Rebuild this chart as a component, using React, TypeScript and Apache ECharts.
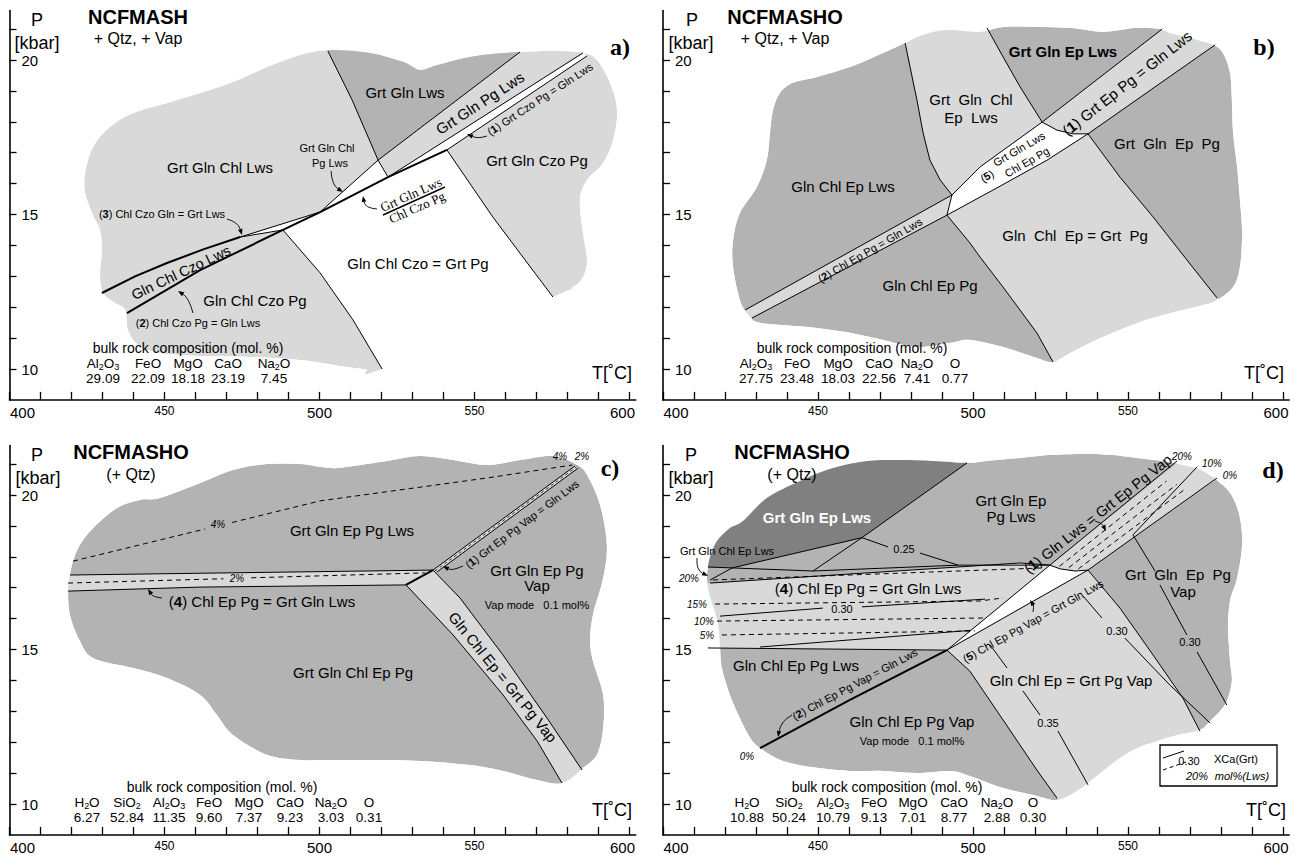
import React, { useEffect, useRef } from "react";
import * as echarts from "echarts";

type Pt = [number, number];

// ---------------- axes ----------------
const T_MIN = 400, T_MAX = 602, P_MIN = 9, P_MAX = 21.6;
const X_TICKS = [400, 410, 420, 430, 440, 450, 460, 470, 480, 490, 500, 510, 520, 530, 540, 550, 560, 570, 580, 590, 600];
const X_LABELS = [400, 450, 500, 550, 600];
const Y_TICKS = [10, 11, 12, 13, 14, 15, 16, 17, 18, 19, 20, 21];
const Y_LABELS = [10, 15, 20];

// ---------------- panel a (NCFMASH) ----------------
const A_BLOB: Pt[] = [
  [503.4, 20.32], [516.3, 20.23], [527.0, 19.94], [532.4, 19.68], [537.9, 19.84], [548.5, 20.10], [559.2, 20.23],
  [575.3, 20.29], [585.0, 20.23], [589.5, 20.0], [593.7, 19.26], [596.0, 18.38], [594.7, 17.41], [591.5, 16.67],
  [586.3, 16.12], [584.0, 15.47], [585.0, 14.40], [586.3, 13.53], [585.0, 12.98], [581.8, 12.65], [575.3, 12.33],
  [520.2, 10.0], [514.7, 10.0], [506.6, 10.10], [493.7, 10.29], [477.6, 10.39], [461.5, 10.42], [448.5, 10.52],
  [441.5, 10.78], [438.2, 11.26], [437.3, 11.91], [434.0, 12.14], [430.2, 12.46], [429.2, 13.04], [429.8, 13.85],
  [429.2, 14.50], [426.6, 15.05], [424.4, 15.70], [424.4, 16.34], [426.9, 17.18], [432.4, 17.83], [439.8, 18.28],
  [450.8, 18.61], [461.5, 18.93], [472.1, 19.29], [483.1, 19.77], [493.7, 20.16],
];
const A_DARK: Pt[] = [[502.7, 20.29], [510.5, 18.71], [518.9, 16.76], [564.7, 20.26], [565, 21.4], [502, 21.4]];
const A_WHITE_SLIVER: Pt[] = [[500.2, 15.08], [518.9, 16.76], [522.1, 16.21]];
const A_WHITE_STRIP: Pt[] = [[522.1, 16.21], [585.0, 20.23], [586.3, 20.13], [541.1, 17.09]];
const A_WHITE_WEDGE: Pt[] = [[474.4, 14.27], [500.2, 15.08], [488.2, 14.50]];
const A_WHITE_FIELD: Pt[] = [
  [488.2, 14.50], [500.2, 15.08], [522.1, 16.21], [541.1, 17.09], [555.9, 14.92], [575.3, 12.33],
  [580, 11.0], [525, 9.3], [520.2, 10.0], [510.8, 11.59], [500.2, 13.11],
];
const A_L_UPPER_THICK: Pt[] = [[429.8, 12.46], [440.5, 13.0], [450.8, 13.43], [462.5, 13.87], [474.4, 14.27]];
const A_L_UPPER_THIN: Pt[] = [[474.4, 14.27], [488.2, 14.50]];
const A_L_WEDGE_TOP: Pt[] = [[474.4, 14.27], [500.2, 15.08]];
const A_L_REACTION2: Pt[] = [[437.9, 11.81], [461.5, 13.2], [488.2, 14.50], [500.2, 15.08], [522.1, 16.21], [541.1, 17.09]];
const A_L_STRIP_LOW: Pt[] = [[541.1, 17.09], [586.3, 20.13]];
const A_L_STRIP_UP: Pt[] = [[522.1, 16.21], [585.0, 20.23]];
const A_L_DARK_RIGHT: Pt[] = [[564.7, 20.26], [518.9, 16.76], [500.2, 15.08]];
const A_L_DARK_LEFT: Pt[] = [[502.7, 20.29], [510.5, 18.71], [518.9, 16.76], [522.1, 16.21]];
const A_L_FIELD_LEFT: Pt[] = [[488.2, 14.50], [500.2, 13.11], [510.8, 11.59], [520.2, 10.0]];
const A_L_FIELD_RIGHT: Pt[] = [[541.1, 17.09], [555.9, 14.92], [575.3, 12.33]];
const A_OXIDES = ["Al{s|2}O{s|3}", "FeO", "MgO", "CaO", "Na{s|2}O"];
const A_VALUES = ["29.09", "22.09", "18.18", "23.19", "7.45"];

// ---------------- panel b (NCFMASHO, + Vap) ----------------
const B_BLOB: Pt[] = [
  [478.1, 20.55], [481.9, 20.74], [487.1, 20.91], [492.6, 20.97], [502.3, 20.91], [509.7, 21.07], [520.6, 21.07],
  [531.3, 21.04], [541.9, 20.91], [552.9, 21.04], [560.3, 21.0], [563.5, 20.87], [572.3, 20.65], [577.4, 20.49],
  [580.6, 20.23], [582.9, 19.58], [583.5, 18.71], [583.9, 17.64], [585.2, 16.54], [586.1, 15.47], [586.8, 14.40],
  [586.1, 13.30], [583.9, 12.65], [578.7, 12.23], [574.2, 12.07], [563.5, 11.81], [552.9, 11.49], [541.9, 11.04],
  [531.3, 10.52], [525.8, 10.23], [520.6, 10.36], [509.7, 10.71], [499.0, 10.94], [492.6, 10.84], [481.9, 10.71],
  [471.0, 10.94], [460.3, 11.17], [449.7, 11.33], [438.7, 11.42], [430.3, 11.52], [427.1, 11.81], [424.8, 12.23],
  [422.6, 13.30], [422.6, 14.17], [424.8, 15.05], [430.3, 15.89], [433.5, 16.76], [434.5, 17.64], [435.5, 18.38],
  [437.7, 18.93], [441.9, 19.26], [449.7, 19.45], [460.3, 19.77], [471.0, 20.23],
];
const B_LIGHT_TOP: Pt[] = [
  [478.1, 20.55], [479.7, 19.77], [481.9, 18.71], [483.9, 17.64], [486.1, 16.76], [489.4, 16.12], [493.2, 15.63],
  [502.3, 16.54], [512.9, 17.31], [522.3, 17.99], [515.2, 19.13], [509.7, 20.10], [504.5, 21.04], [504.5, 21.5], [478, 21.5],
];
const B_BAND2: Pt[] = [[423, 11.71], [493.2, 15.63], [491.6, 14.98], [425, 11.45]];
const B_BAND1: Pt[] = [[522.3, 17.99], [566, 21.38], [584, 20.9], [537.1, 17.61], [532.3, 17.61], [527.1, 17.73]];
const B_WHITE5: Pt[] = [
  [493.2, 15.63], [502.3, 16.54], [512.9, 17.31], [522.3, 17.99], [527.1, 17.73], [532.3, 17.61], [537.1, 17.61],
  [523.9, 16.76], [507.7, 15.86], [491.6, 14.98],
];
const B_LIGHT_BOTTOM: Pt[] = [
  [491.6, 14.98], [507.7, 15.86], [523.9, 16.76], [537.1, 17.61], [547.4, 16.21], [558.1, 14.92], [569.0, 13.53],
  [578.7, 12.30], [584, 11.6], [528, 9.6], [525.8, 10.23], [520.6, 11.17], [509.7, 12.65], [502.3, 13.62], [499.0, 14.08],
];
const B_L_B1: Pt[] = [[478.1, 20.55], [479.7, 19.77], [481.9, 18.71], [483.9, 17.64], [486.1, 16.76], [489.4, 16.12], [493.2, 15.63]];
const B_L_B2: Pt[] = [[504.5, 21.04], [509.7, 20.10], [515.2, 19.13], [522.3, 17.99]];
const B_L_B3: Pt[] = [[537.1, 17.61], [547.4, 16.21], [558.1, 14.92], [569.0, 13.53], [578.7, 12.30]];
const B_L_B4: Pt[] = [[491.6, 14.98], [499.0, 14.08], [502.3, 13.62], [509.7, 12.65], [520.6, 11.17], [525.8, 10.23]];
const B_L_5UP: Pt[] = [[493.2, 15.63], [502.3, 16.54], [512.9, 17.31], [522.3, 17.99]];
const B_L_5TOP: Pt[] = [[522.3, 17.99], [527.1, 17.73], [532.3, 17.61], [537.1, 17.61]];
const B_L_5LOW: Pt[] = [[491.6, 14.98], [507.7, 15.86], [523.9, 16.76], [537.1, 17.61]];
const B_L_JOIN: Pt[] = [[493.2, 15.63], [491.6, 14.98]];
const B_L_2UP: Pt[] = [[426.5, 11.91], [493.2, 15.63]];
const B_L_2LOW: Pt[] = [[428.7, 11.65], [491.6, 14.98]];
const B_L_1UP: Pt[] = [[522.3, 17.99], [561.0, 21.0]];
const B_L_1LOW: Pt[] = [[537.1, 17.61], [578.1, 20.49]];
const B_OXIDES = ["Al{s|2}O{s|3}", "FeO", "MgO", "CaO", "Na{s|2}O", "O"];
const B_VALUES = ["27.75", "23.48", "18.03", "22.56", "7.41", "0.77"];

// ---------------- panel c (NCFMASHO, + Qtz) ----------------
const C_BLOB: Pt[] = [
  [427.0, 18.93], [434.7, 19.58], [442.1, 19.84], [448.5, 19.90], [461.5, 20.39], [472.1, 20.81], [483.1, 21.0],
  [493.7, 21.0], [503.4, 20.87], [510.8, 20.94], [521.8, 21.10], [532.4, 21.26], [543.1, 21.13], [554.0, 20.97],
  [564.7, 21.13], [575.3, 21.26], [583.1, 20.97], [586.3, 20.65], [590.5, 19.68], [592.7, 18.38], [591.5, 17.31],
  [588.2, 16.12], [587.3, 15.28], [588.2, 14.63], [591.5, 13.53], [591.5, 12.46], [589.5, 11.59], [585.0, 11.17],
  [578.5, 10.68], [570.2, 10.78], [559.2, 11.07], [548.5, 11.26], [532.4, 11.39], [516.3, 11.42], [503.4, 11.42],
  [493.7, 11.42], [483.1, 11.59], [472.1, 12.23], [466.9, 12.88], [461.5, 13.53], [450.8, 14.08], [439.9, 14.40],
  [427.0, 14.72], [422.7, 15.28], [419.5, 16.12], [418.9, 16.89], [419.5, 17.41], [420.5, 17.86], [422.7, 18.38],
];
const C_BAND4: Pt[] = [[415, 17.40], [536.6, 17.57], [527.9, 17.09], [461.5, 17.02], [415, 16.88]];
const C_DIAG: Pt[] = [
  [527.9, 17.09], [536.6, 17.57], [545.3, 16.67], [559.2, 14.82], [573.4, 12.78], [584.7, 11.10], [588, 10.4],
  [578, 10.2], [578.2, 10.68], [570.2, 12.04], [559.2, 13.53], [543.1, 15.47],
];
const C_STRIP1: Pt[] = [[536.6, 17.57], [582.4, 20.94], [583.4, 20.87], [537.9, 17.51]];
const C_L_BAND_UP: Pt[] = [[419.5, 17.41], [536.6, 17.57]];
const C_L_BAND_LOW: Pt[] = [[418.9, 16.89], [461.5, 17.02], [527.9, 17.09]];
const C_L_CLOSE: Pt[] = [[527.9, 17.09], [536.6, 17.57]];
const C_L_DIAG_L: Pt[] = [[527.9, 17.09], [543.1, 15.47], [559.2, 13.53], [570.2, 12.04], [578.2, 10.68]];
const C_L_DIAG_R: Pt[] = [[536.6, 17.57], [545.3, 16.67], [559.2, 14.82], [573.4, 12.78], [584.7, 11.10]];
const C_L_1A: Pt[] = [[536.6, 17.57], [582.4, 20.94]];
const C_L_1B: Pt[] = [[537.9, 17.51], [583.4, 20.87]];
const C_D_1MID: Pt[] = [[537.2, 17.54], [582.9, 20.91]];
const C_D_2PCT_A: Pt[] = [[418.9, 17.15], [469, 17.29]];
const C_D_2PCT_B: Pt[] = [[478, 17.32], [534.0, 17.48]];
const C_D_4PCT_A: Pt[] = [[420.5, 17.86], [463.1, 18.90]];
const C_D_4PCT_B: Pt[] = [[471.8, 19.11], [500.2, 19.81], [554.0, 20.55], [581.5, 20.97]];
const C_OXIDES = ["H{s|2}O", "SiO{s|2}", "Al{s|2}O{s|3}", "FeO", "MgO", "CaO", "Na{s|2}O", "O"];
const C_VALUES = ["6.27", "52.84", "11.35", "9.60", "7.37", "9.23", "3.03", "0.31"];

// ---------------- panel d (NCFMASHO, + Qtz, isopleths) ----------------
const D_BLOB: Pt[] = [
  [415.2, 18.0], [417.4, 18.51], [421.6, 18.93], [425.8, 19.16], [433.5, 19.90], [444.2, 20.45], [454.8, 20.87],
  [465.8, 21.10], [476.5, 21.13], [487.1, 21.10], [498.1, 21.04], [504.5, 21.10], [515.2, 21.20], [525.8, 21.30],
  [536.8, 21.33], [544.2, 21.30], [552.9, 21.20], [561.3, 21.10], [569.0, 20.94], [574.2, 20.78], [580.6, 20.32],
  [583.9, 19.90], [586.1, 19.26], [586.8, 18.38], [585.2, 17.31], [582.9, 16.57], [582.3, 15.70], [582.9, 14.63],
  [583.5, 13.98], [581.9, 13.33], [579.7, 13.01], [576.5, 12.69], [573.2, 12.40], [565.8, 12.23], [559.4, 12.04],
  [552.9, 11.81], [547.4, 11.49], [541.9, 11.07], [533.5, 10.42], [527.1, 10.13], [520.6, 10.26], [509.7, 10.52],
  [499.0, 10.91], [492.6, 11.07], [481.9, 11.0], [471.0, 11.07], [460.3, 11.07], [449.7, 11.17], [438.7, 11.39],
  [431.3, 11.81], [428.1, 12.14], [424.8, 12.78], [421.6, 13.53], [419.0, 14.40], [418.4, 15.05], [417.7, 15.86],
  [415.2, 16.70], [414.2, 17.25], [414.5, 17.67],
];
const D_DARK: Pt[] = [[412, 17.67], [422.3, 17.64], [464.2, 18.62], [498.1, 21.04], [500, 21.55], [412, 21.55]];
const D_BAND4: Pt[] = [[412, 17.13], [515.2, 17.80], [524.8, 17.73], [491.6, 14.98], [414.5, 15.05], [412, 15.05]];
const D_WEDGE5: Pt[] = [[491.6, 14.98], [524.8, 17.73], [528.1, 17.61], [532.9, 17.54], [537.1, 17.57]];
const D_BAND1: Pt[] = [[524.8, 17.73], [568.9, 21.29], [582.3, 20.78], [537.1, 17.57], [532.9, 17.54], [528.1, 17.61]];
const D_LIGHT_FIELD: Pt[] = [
  [491.6, 14.98], [537.1, 17.57], [547.4, 16.34], [558.1, 14.82], [567.7, 13.43], [573.2, 12.36], [578, 11.2],
  [530, 9.6], [527.1, 10.19], [520.6, 11.10], [509.7, 12.72], [499.0, 14.30],
];
const D_L_D1: Pt[] = [[498.1, 21.04], [464.2, 18.62], [448.4, 17.54]];
const D_L_D3: Pt[] = [[415.2, 17.25], [422.3, 17.64], [464.2, 18.62]];
const D_L_D2: Pt[] = [[414.5, 17.67], [422.3, 17.64], [448.4, 17.54], [495.2, 17.73], [524.8, 17.73]];
const D_L_025A: Pt[] = [[464.2, 18.62], [472.6, 18.32]];
const D_L_025B: Pt[] = [[482.9, 18.12], [495.2, 17.73]];
const D_L_T4: Pt[] = [[415.2, 17.15], [515.2, 17.80], [524.8, 17.73]];
const D_L_B4: Pt[] = [[414.5, 15.05], [491.6, 14.98]];
const D_L_R: Pt[] = [[431.3, 15.08], [499.3, 15.62]];
const D_D_20: Pt[] = [[416.1, 17.25], [522.6, 17.64]];
const D_D_15: Pt[] = [[416.8, 16.47], [502.3, 16.57], [509.7, 16.67]];
const D_D_10: Pt[] = [[417.4, 15.92], [503.9, 16.02]];
const D_D_5: Pt[] = [[419.0, 15.47], [500.6, 15.60]];
const D_L_030A: Pt[] = [[418.4, 16.08], [451.6, 16.34]];
const D_L_030B: Pt[] = [[464.2, 16.38], [503.9, 16.63]];
const D_L_5UP: Pt[] = [[491.6, 14.98], [524.8, 17.73]];
const D_L_5LOW: Pt[] = [[491.6, 14.98], [537.1, 17.57]];
const D_L_5TOP: Pt[] = [[524.8, 17.73], [528.1, 17.61], [532.9, 17.54], [537.1, 17.57]];
const D_L_1UP: Pt[] = [[524.8, 17.73], [565.8, 21.10]];
const D_L_1LOW: Pt[] = [[537.1, 17.57], [578.7, 20.55]];
const D_L_10PCT: Pt[] = [[572.3, 20.91], [551.6, 18.71]];
const D_D_B1A: Pt[] = [[527.9, 17.69], [562.4, 20.45]];
const D_D_B1B: Pt[] = [[530.9, 17.65], [565.7, 20.34]];
const D_D_B1C: Pt[] = [[534.0, 17.61], [568.8, 20.22]];
const D_L_FIELD_R: Pt[] = [[537.1, 17.57], [547.4, 16.34], [558.1, 14.82], [567.7, 13.43], [573.2, 12.36]];
const D_L_FIELD_L: Pt[] = [[491.6, 14.98], [499.0, 14.30], [509.7, 12.72], [520.6, 11.10], [527.1, 10.19]];
const D_L_REACTION2: Pt[] = [[431.3, 11.81], [460.3, 13.37], [491.6, 14.98]];
const D_L_030R1: Pt[] = [[551.6, 18.71], [558.7, 17.54]];
const D_L_030R2: Pt[] = [[560.3, 17.09], [569.0, 15.47]];
const D_L_030R3: Pt[] = [[572.3, 14.92], [581.9, 13.20]];
const D_L_030M1: Pt[] = [[535.5, 16.73], [541.6, 16.02]];
const D_L_030M2: Pt[] = [[549.0, 15.37], [563.5, 13.85], [576.5, 12.62]];
const D_L_035A: Pt[] = [[505.5, 15.15], [511.0, 14.40]];
const D_L_035B: Pt[] = [[516.1, 13.66], [521.6, 12.88]];
const D_L_035C: Pt[] = [[527.4, 12.36], [537.1, 10.62]];
const D_OXIDES = ["H{s|2}O", "SiO{s|2}", "Al{s|2}O{s|3}", "FeO", "MgO", "CaO", "Na{s|2}O", "O"];
const D_VALUES = ["10.88", "50.24", "10.79", "9.13", "7.01", "8.77", "2.88", "0.30"];

// ---------------- styles ----------------
const LIGHT = "#d9d9d9";
const MID = "#b3b3b3";
const DARK = "#808080";
const WHITE = "#ffffff";
const SANS = "'Liberation Sans', Arial, Helvetica, sans-serif";
const SERIF = "'Liberation Serif', 'Times New Roman', serif";
const DASH = [5, 4];

interface Fill { pts: Pt[]; color: string }
interface Stroke { pts: Pt[]; w?: number; dash?: number[] }
interface Spec { blob: Pt[]; base: string; fills: Fill[]; lines: Stroke[] }

const PANELS: Spec[] = [
  {
    blob: A_BLOB, base: LIGHT,
    fills: [
      { pts: A_DARK, color: MID }, { pts: A_WHITE_SLIVER, color: WHITE }, { pts: A_WHITE_STRIP, color: WHITE },
      { pts: A_WHITE_WEDGE, color: WHITE }, { pts: A_WHITE_FIELD, color: WHITE },
    ],
    lines: [
      { pts: A_L_UPPER_THICK, w: 2 }, { pts: A_L_UPPER_THIN }, { pts: A_L_WEDGE_TOP }, { pts: A_L_REACTION2, w: 2 },
      { pts: A_L_STRIP_LOW }, { pts: A_L_STRIP_UP }, { pts: A_L_DARK_RIGHT }, { pts: A_L_DARK_LEFT },
      { pts: A_L_FIELD_LEFT }, { pts: A_L_FIELD_RIGHT },
    ],
  },
  {
    blob: B_BLOB, base: MID,
    fills: [
      { pts: B_LIGHT_TOP, color: LIGHT }, { pts: B_BAND2, color: LIGHT }, { pts: B_BAND1, color: LIGHT },
      { pts: B_LIGHT_BOTTOM, color: LIGHT }, { pts: B_WHITE5, color: WHITE },
    ],
    lines: [
      { pts: B_L_B1 }, { pts: B_L_B2 }, { pts: B_L_B3 }, { pts: B_L_B4 }, { pts: B_L_5UP }, { pts: B_L_5TOP },
      { pts: B_L_5LOW }, { pts: B_L_JOIN }, { pts: B_L_2UP }, { pts: B_L_2LOW }, { pts: B_L_1UP }, { pts: B_L_1LOW },
    ],
  },
  {
    blob: C_BLOB, base: MID,
    fills: [{ pts: C_BAND4, color: LIGHT }, { pts: C_DIAG, color: LIGHT }, { pts: C_STRIP1, color: LIGHT }],
    lines: [
      { pts: C_L_BAND_UP }, { pts: C_L_BAND_LOW }, { pts: C_L_CLOSE, w: 2 }, { pts: C_L_DIAG_L }, { pts: C_L_DIAG_R },
      { pts: C_L_1A }, { pts: C_L_1B }, { pts: C_D_1MID, w: 0.8, dash: [3, 3] },
      { pts: C_D_2PCT_A, dash: DASH }, { pts: C_D_2PCT_B, dash: DASH },
      { pts: C_D_4PCT_A, dash: DASH }, { pts: C_D_4PCT_B, dash: DASH },
    ],
  },
  {
    blob: D_BLOB, base: MID,
    fills: [
      { pts: D_DARK, color: DARK }, { pts: D_BAND4, color: LIGHT }, { pts: D_BAND1, color: LIGHT },
      { pts: D_LIGHT_FIELD, color: LIGHT }, { pts: D_WEDGE5, color: WHITE },
    ],
    lines: [
      { pts: D_L_D1 }, { pts: D_L_D3 }, { pts: D_L_D2 }, { pts: D_L_025A }, { pts: D_L_025B }, { pts: D_L_T4 },
      { pts: D_L_B4 }, { pts: D_L_R }, { pts: D_D_20, dash: DASH }, { pts: D_D_15, dash: DASH },
      { pts: D_D_10, dash: DASH }, { pts: D_D_5, dash: DASH }, { pts: D_L_030A }, { pts: D_L_030B },
      { pts: D_L_5UP }, { pts: D_L_5LOW }, { pts: D_L_5TOP }, { pts: D_L_1UP }, { pts: D_L_1LOW }, { pts: D_L_10PCT },
      { pts: D_D_B1A, dash: DASH }, { pts: D_D_B1B, dash: DASH }, { pts: D_D_B1C, dash: DASH },
      { pts: D_L_FIELD_R }, { pts: D_L_FIELD_L }, { pts: D_L_REACTION2, w: 2 },
      { pts: D_L_030R1 }, { pts: D_L_030R2 }, { pts: D_L_030R3 }, { pts: D_L_030M1 }, { pts: D_L_030M2 },
      { pts: D_L_035A }, { pts: D_L_035B }, { pts: D_L_035C },
    ],
  },
];

// grid layout (pixels)
const GRIDS = [
  { left: 9.5, top: 10.56 },
  { left: 663, top: 10.56 },
  { left: 9.5, top: 445.56 },
  { left: 663, top: 445.56 },
];
const GRID_W = 626.2, GRID_H = 389.34;

// ---------------- helpers ----------------
function smoothClosed(pts: number[][]): string {
  const n = pts.length;
  let d = `M${pts[0][0].toFixed(2)} ${pts[0][1].toFixed(2)}`;
  for (let i = 0; i < n; i++) {
    const p0 = pts[(i - 1 + n) % n], p1 = pts[i], p2 = pts[(i + 1) % n], p3 = pts[(i + 2) % n];
    const c1x = p1[0] + (p2[0] - p0[0]) / 6, c1y = p1[1] + (p2[1] - p0[1]) / 6;
    const c2x = p2[0] - (p3[0] - p1[0]) / 6, c2y = p2[1] - (p3[1] - p1[1]) / 6;
    d += `C${c1x.toFixed(2)} ${c1y.toFixed(2)} ${c2x.toFixed(2)} ${c2y.toFixed(2)} ${p2[0].toFixed(2)} ${p2[1].toFixed(2)}`;
  }
  return d + "Z";
}
function signedArea(pts: number[][]): number {
  let s = 0;
  for (let i = 0; i < pts.length; i++) {
    const a = pts[i], b = pts[(i + 1) % pts.length];
    s += a[0] * b[1] - b[0] * a[1];
  }
  return s / 2;
}

function makeRender(spec: Spec) {
  return function (_params: any, api: any) {
    const c = (p: Pt) => api.coord(p) as number[];
    const blobPx = spec.blob.map(c);
    const children: any[] = [];
    children.push({ type: "path", shape: { pathData: smoothClosed(blobPx) }, style: { fill: spec.base, stroke: "none" } });
    for (const f of spec.fills) {
      children.push({ type: "polygon", shape: { points: f.pts.map(c) }, style: { fill: f.color, stroke: "none" } });
    }
    const tl = c([T_MIN, P_MAX]);
    const br = c([T_MAX, P_MIN]);
    const rect = `M${tl[0]} ${tl[1]}L${br[0]} ${tl[1]}L${br[0]} ${br[1]}L${tl[0]} ${br[1]}Z`;
    const hole = signedArea(blobPx) > 0 ? blobPx.slice().reverse() : blobPx;
    children.push({ type: "path", shape: { pathData: rect + smoothClosed(hole) }, style: { fill: WHITE, stroke: "none" } });
    for (const l of spec.lines) {
      children.push({
        type: "polyline",
        shape: { points: l.pts.map(c) },
        style: { stroke: "#000", lineWidth: l.w || 1, lineDash: l.dash || null, fill: "none", lineJoin: "round" },
      });
    }
    return { type: "group", children };
  };
}

function txt(x: number, y: number, text: string, size: number, o: any = {}) {
  const fw = o.bold ? "bold" : "normal";
  const fs = o.italic ? "italic" : "normal";
  const fam = o.serif ? SERIF : SANS;
  const lh = o.lh || Math.round(size * 1.15);
  return {
    type: "text", x, y, z: 101, silent: true,
    rotation: o.rot ? (o.rot * Math.PI) / 180 : 0,
    style: {
      text, fontSize: size, fontFamily: fam, fontWeight: fw, fontStyle: fs, lineHeight: lh,
      fill: o.color || "#000", align: "center", verticalAlign: "middle",
      rich: {
        b: { fontSize: size, fontFamily: fam, fontWeight: "bold", fill: o.color || "#000", lineHeight: lh },
        s: { fontSize: Math.round(size * 0.7), fontFamily: fam, padding: [7, 0, 0, 0], lineHeight: lh - 7, fill: "#000" },
      },
    },
  };
}
function arrow(x1: number, y1: number, cx: number, cy: number, x2: number, y2: number) {
  const dx = x2 - cx, dy = y2 - cy, L = Math.hypot(dx, dy) || 1;
  const ux = dx / L, uy = dy / L;
  const bx = x2 - ux * 6, by = y2 - uy * 6;
  return [
    { type: "bezierCurve", z: 101, silent: true, shape: { x1, y1, x2: bx, y2: by, cpx1: cx, cpy1: cy }, style: { stroke: "#000", lineWidth: 0.9, fill: "none" } },
    { type: "polygon", z: 101, silent: true, shape: { points: [[x2, y2], [bx - uy * 2.3, by + ux * 2.3], [bx + uy * 2.3, by - ux * 2.3]] }, style: { fill: "#000" } },
  ];
}
function composition(oxides: string[], values: string[], xs: number[], yTitle: number, xTitle: number) {
  const out: any[] = [txt(xTitle, yTitle, "bulk rock composition (mol. %)", 14, { lh: 14 })];
  oxides.forEach((ox, i) => {
    out.push(txt(xs[i], yTitle + 15, ox, 13.5, { lh: 14 }));
    out.push(txt(xs[i], yTitle + 30, values[i], 13.5, { lh: 14 }));
  });
  return out;
}

function buildGraphics() {
  const g: any[] = [];
  // ---- panel a
  g.push(txt(138, 17, "NCFMASH", 20, { bold: true }), txt(138, 38, "+ Qtz, + Vap", 16));
  g.push(txt(37, 20, "P", 18), txt(37, 43, "[kbar]", 18), txt(620, 47, "a)", 24, { serif: true, bold: true }));
  g.push(txt(220, 167, "Grt Gln Chl Lws", 15), txt(405, 92, "Grt Gln Lws", 15));
  g.push(txt(480, 103, "Grt Gln Pg Lws", 15, { rot: 33 }));
  g.push(txt(540, 99, "({b|1}) Grt Czo Pg = Gln Lws", 11, { rot: 33 }));
  g.push(txt(537, 160, "Grt Gln Czo Pg", 15));
  g.push(txt(327, 148, "Grt Gln Chl", 11), txt(330, 163, "Pg Lws", 11));
  g.push(txt(411, 194.5, "Grt Gln Lws", 13, { serif: true, rot: 24 }), txt(417, 207.5, "Chl Czo Pg", 13, { serif: true, rot: 24 }));
  g.push({ type: "line", z: 101, silent: true, shape: { x1: 383, y1: 215, x2: 445, y2: 187 }, style: { stroke: "#000", lineWidth: 1.4 } });
  g.push(txt(418, 263, "Gln Chl Czo = Grt Pg", 15), txt(255, 300, "Gln Chl Czo Pg", 15));
  g.push(txt(181, 272.5, "Gln Chl Czo Lws", 14.5, { rot: 25.5 }));
  g.push(txt(162, 214, "({b|3}) Chl Czo Gln = Grt Lws", 11), txt(198, 323, "({b|2}) Chl Czo Pg = Gln Lws", 11));
  g.push(...composition(A_OXIDES, A_VALUES, [103, 148, 188, 228, 274], 348, 188));
  g.push(txt(612, 373, "T[˚C]", 18));
  g.push(...arrow(227, 219, 238, 222, 242, 235), ...arrow(193, 313, 189, 298, 178, 291));
  g.push(...arrow(331, 171, 332, 185, 343, 192), ...arrow(487, 136, 478, 139, 467, 134));
  g.push(...arrow(377, 209, 365, 208, 363, 196));

  // ---- panel b
  g.push(txt(785, 17, "NCFMASHO", 20, { bold: true }), txt(785, 38, "+ Qtz, + Vap", 16));
  g.push(txt(692, 20, "P", 18), txt(691, 43, "[kbar]", 18), txt(1264, 47, "b)", 24, { serif: true, bold: true }));
  g.push(txt(1063, 51, "Grt Gln Ep Lws", 15, { bold: true }));
  g.push(txt(971, 99, "Grt  Gln  Chl", 15), txt(971, 117, "Ep  Lws", 15));
  g.push(txt(1127, 83, "({b|1}) Grt Ep Pg = Gln Lws", 15, { rot: 38 }));
  g.push(txt(1167, 143, "Grt  Gln  Ep  Pg", 15));
  g.push(txt(1019, 149, "Grt Gln Lws", 11, { rot: 30 }), txt(1027, 162, "Chl Ep Pg", 11, { rot: 30 }));
  g.push(txt(987, 176, "({b|5})", 11, { rot: 30 }));
  g.push(txt(843, 186, "Gln Chl Ep Lws", 15));
  g.push(txt(870, 250, "({b|2}) Chl Ep Pg = Gln Lws", 11, { rot: 30 }));
  g.push(txt(1075, 235, "Gln  Chl  Ep = Grt  Pg", 15), txt(930, 285, "Gln Chl Ep Pg", 15));
  g.push(...composition(B_OXIDES, B_VALUES, [756, 797, 838, 879, 917, 955], 348, 852));
  g.push(txt(1264, 373, "T[˚C]", 18));

  // ---- panel c
  g.push(txt(131, 452, "NCFMASHO", 20, { bold: true }), txt(131, 474, "(+ Qtz)", 16));
  g.push(txt(37, 455, "P", 18), txt(38, 478, "[kbar]", 18), txt(610, 468, "c)", 24, { serif: true, bold: true }));
  g.push(txt(352, 530, "Grt Gln Ep Pg Lws", 15));
  g.push(txt(218, 524, "4%", 10, { italic: true }), txt(237, 578, "2%", 10, { italic: true }));
  g.push(txt(262, 601, "({b|4}) Chl Ep Pg = Grt Gln Lws", 15));
  g.push(txt(353, 672, "Grt Gln Chl Ep Pg", 15));
  g.push(txt(522, 524, "({b|1}) Grt Ep Pg Vap = Gln Lws", 11, { rot: 37 }));
  g.push(txt(537, 570, "Grt Gln Ep Pg", 15), txt(537, 585, "Vap", 15), txt(537, 605, "Vap mode   0.1 mol%", 11));
  g.push(txt(503, 677, "Gln Chl Ep = Grt Pg Vap", 15, { rot: -51 }));
  g.push(txt(560, 456, "4%", 10, { italic: true }), txt(582, 456, "2%", 10, { italic: true }));
  g.push(...composition(C_OXIDES, C_VALUES, [87, 127, 169, 209, 249, 290, 331, 369], 787, 222));
  g.push(txt(612, 810, "T[˚C]", 18));
  g.push(...arrow(162, 598, 153, 597, 148, 589), ...arrow(463, 566, 452, 571, 443, 566));

  // ---- panel d
  g.push(txt(792, 452, "NCFMASHO", 20, { bold: true }), txt(792, 474, "(+ Qtz)", 16));
  g.push(txt(691, 455, "P", 18), txt(691, 478, "[kbar]", 18), txt(1273, 470, "d)", 24, { serif: true, bold: true }));
  g.push(txt(817, 517, "Grt Gln Ep Lws", 15, { bold: true, color: "#fff" }));
  g.push(txt(727, 551, "Grt Gln Chl Ep Lws", 11), txt(904, 549, "0.25", 11));
  g.push(txt(1011, 500, "Grt Gln Ep", 15), txt(1011, 516, "Pg Lws", 15));
  g.push(txt(1098, 514, "({b|1}) Gln Lws = Grt Ep Pg Vap", 14.5, { rot: 38 }));
  g.push(txt(1178, 574, "Grt  Gln  Ep  Pg", 15), txt(1183, 591, "Vap", 15));
  g.push(txt(1117, 631, "0.30", 11), txt(1190, 642, "0.30", 11), txt(842, 609, "0.30", 11));
  g.push(txt(868, 588, "({b|4}) Chl Ep Pg = Grt Gln Lws", 15));
  g.push(txt(689, 578, "20%", 10, { italic: true }), txt(697, 604, "15%", 10, { italic: true }));
  g.push(txt(704, 621, "10%", 10, { italic: true }), txt(707, 635, "5%", 10, { italic: true }));
  g.push(txt(1182, 456, "20%", 10, { italic: true }), txt(1212, 463, "10%", 10, { italic: true }));
  g.push(txt(1230, 475, "0%", 10, { italic: true }), txt(747, 756, "0%", 10, { italic: true }));
  g.push(txt(1033, 621, "({b|5}) Chl Ep Pg Vap = Grt Gln Lws", 11, { rot: 29 }));
  g.push(txt(796, 665, "Gln Chl Ep Pg Lws", 15));
  g.push(txt(855, 684, "({b|2}) Chl Ep Pg Vap = Gln Lws", 11, { rot: 28 }));
  g.push(txt(912, 721, "Gln Chl Ep Pg Vap", 15), txt(912, 741, "Vap mode   0.1 mol%", 11));
  g.push(txt(1071, 680, "Gln Chl Ep = Grt Pg Vap", 15), txt(1048, 723, "0.35", 11));
  g.push(...composition(D_OXIDES, D_VALUES, [747, 789, 833, 874, 913, 954, 997, 1033], 787, 887));
  g.push(txt(1266, 810, "T[˚C]", 18));
  g.push(...arrow(697, 558, 696, 570, 708, 576), ...arrow(1095, 521, 1102, 523, 1106, 531));
  g.push(...arrow(1033, 612, 1034, 606, 1030, 600), ...arrow(792, 715, 781, 721, 778, 737));
  // legend box
  g.push({ type: "rect", z: 100, silent: true, shape: { x: 1160, y: 745, width: 117, height: 41 }, style: { fill: "#fff", stroke: "#000", lineWidth: 1.3 } });
  g.push({ type: "line", z: 101, silent: true, shape: { x1: 1163, y1: 758, x2: 1184, y2: 751 }, style: { stroke: "#000", lineWidth: 1 } });
  g.push({ type: "line", z: 101, silent: true, shape: { x1: 1163, y1: 770, x2: 1186, y2: 762 }, style: { stroke: "#000", lineWidth: 1, lineDash: [4, 3] } });
  g.push(txt(1189, 761, "0.30", 11), txt(1236, 759, "XCa(Grt)", 11));
  g.push(txt(1197, 776, "20%", 11, { italic: true }), txt(1242, 776, "mol%(Lws)", 11, { italic: true }));
  return g;
}

function buildOption() {
  const grid = GRIDS.map((g) => ({ left: g.left, top: g.top, width: GRID_W, height: GRID_H, containLabel: false, outerBoundsMode: "none" }));
  const axisLine = { show: true, onZero: false, lineStyle: { color: "#000", width: 1.6 } };
  const xAxis = GRIDS.map((_g, i) => ({
    type: "value", gridIndex: i, min: T_MIN, max: T_MAX, interval: 10, z: 10,
    axisLine,
    axisTick: { show: true, inside: true, length: 8, customValues: X_TICKS, lineStyle: { color: "#000", width: 1.3 } },
    splitLine: { show: false },
    axisLabel: {
      show: true, margin: 5, color: "#000", customValues: X_LABELS, fontFamily: SANS,
      formatter: (v: number) => {
        if (v === 400) return "{f|400}";
        if (v === 600) return "{l|600}";
        if (v === 500) return "{m|500}";
        if (v === 450 || v === 550) return "{s|" + v + "}";
        return "";
      },
      rich: {
        f: { fontSize: 15, fontFamily: SANS, color: "#000", padding: [0, 0, 0, 26] },
        l: { fontSize: 15, fontFamily: SANS, color: "#000", padding: [0, 14, 0, 0] },
        m: { fontSize: 15, fontFamily: SANS, color: "#000" },
        s: { fontSize: 12, fontFamily: SANS, color: "#000" },
      },
    },
  }));
  const yAxis = GRIDS.map((_g, i) => ({
    type: "value", gridIndex: i, min: P_MIN, max: P_MAX, interval: 1, z: 10,
    axisLine,
    axisTick: { show: true, inside: true, length: 7, customValues: Y_TICKS, lineStyle: { color: "#000", width: 1.3 } },
    splitLine: { show: false },
    axisLabel: {
      show: true, inside: true, margin: 12, color: "#000", fontSize: 15, fontFamily: SANS, customValues: Y_LABELS,
      formatter: (v: number) => (Y_LABELS.indexOf(v) >= 0 ? String(v) : ""),
    },
  }));
  const series = PANELS.map((p, i) => ({
    type: "custom", xAxisIndex: i, yAxisIndex: i, data: [[500, 15]], clip: false, silent: true, z: 2,
    renderItem: makeRender(p),
  }));
  return {
    animation: false,
    backgroundColor: "#ffffff",
    textStyle: { fontFamily: SANS },
    grid, xAxis, yAxis, series,
    graphic: { elements: buildGraphics() },
  };
}

export default function App() {
  const ref = useRef<HTMLDivElement>(null);
  useEffect(() => {
    if (!ref.current) return;
    const chart = echarts.init(ref.current, null, { renderer: "svg" });
    chart.setOption(buildOption() as any);
    return () => chart.dispose();
  }, []);
  return <div ref={ref} style={{ position: "fixed", left: 0, top: 0, width: 1298, height: 855, background: "#fff" }} />;
}
